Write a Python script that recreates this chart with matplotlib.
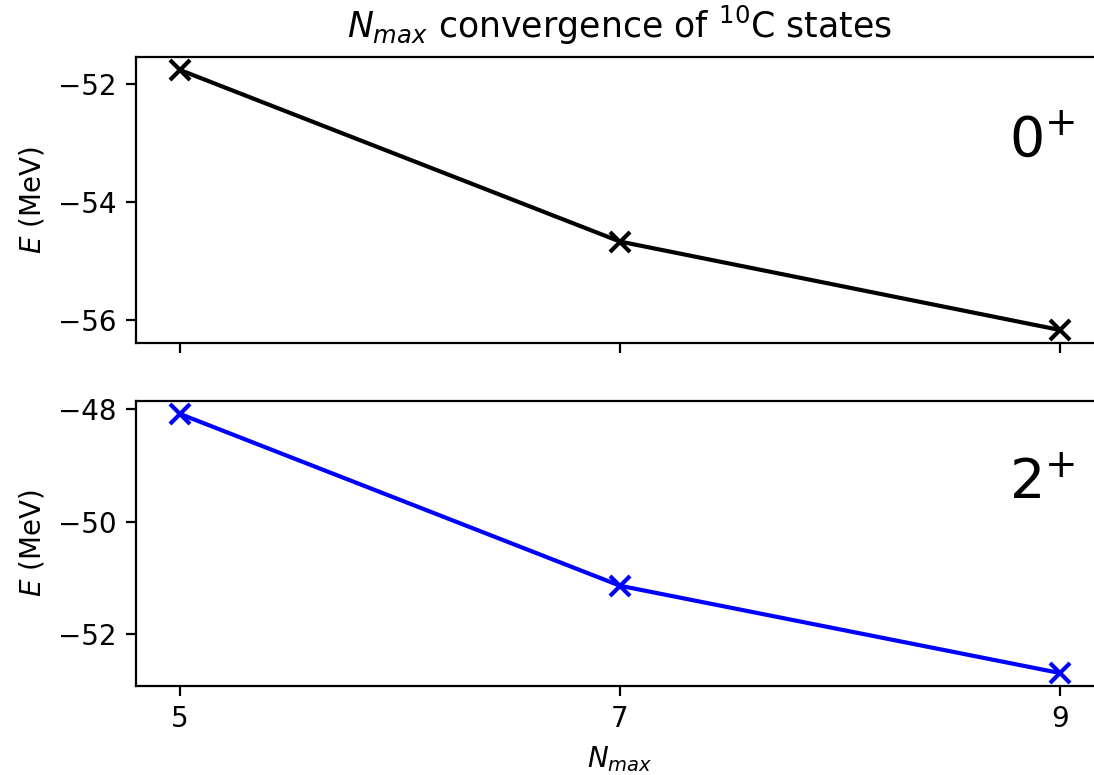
import matplotlib
matplotlib.use("Agg")
import matplotlib.pyplot as plt

NMAX = [5, 7, 9]
E_0PLUS = [-51.76, -54.67, -56.17]
E_2PLUS = [-48.09, -51.14, -52.69]

DPI = 200
W, H = 1094.0, 775.0
fig = plt.figure(figsize=(W / DPI, H / DPI), dpi=DPI)
ax1 = fig.add_axes([136 / W, 1 - 343 / H, 968 / W, 286 / H])
ax2 = fig.add_axes([136 / W, 1 - 686 / H, 968 / W, 285 / H], sharex=ax1)

ax1.plot(NMAX, E_0PLUS, color="black", marker="x", markersize=7, markeredgewidth=1.5)
ax2.plot(NMAX, E_2PLUS, color="blue", marker="x", markersize=7, markeredgewidth=1.5)

ax1.set_xticks(NMAX)
ax1.tick_params(labelbottom=False)
ax1.set_yticks([-52, -54, -56])
ax2.set_yticks([-48, -50, -52])

for ax, lab in [(ax1, "$0^{+}$"), (ax2, "$2^{+}$")]:
    ax.set_ylabel("$E$ (MeV)")
    ax.text(0.97, 0.71, lab, transform=ax.transAxes, ha="right", va="center", fontsize=20)

ax1.set_title("$N_{max}$ convergence of $^{10}$C states", fontsize=12.5, pad=7)
ax2.set_xlabel("$N_{max}$")

fig.savefig("out.png", dpi=DPI)
